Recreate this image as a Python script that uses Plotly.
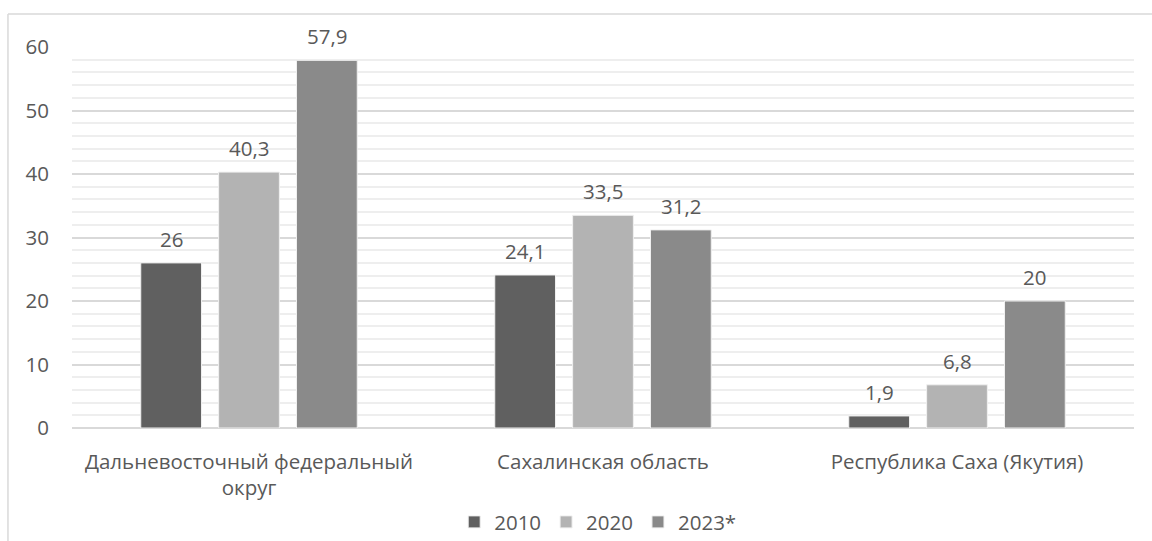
import plotly.graph_objects as go

regions = ["Дальневосточный федеральный<br>округ", "Сахалинская область", "Республика Саха (Якутия)"]
years = ["2010", "2020", "2023*"]
values = {
    "2010": [26, 24.1, 1.9],
    "2020": [40.3, 33.5, 6.8],
    "2023*": [57.9, 31.2, 20],
}
colors = {"2010": "#606060", "2020": "#b3b3b3", "2023*": "#8a8a8a"}

FONT = "Open Sans"
FS = 20.5
TXT = "#595959"
BARGAP = 0.34
BARGROUPGAP = 0.22

fig = go.Figure()
for yr in years:
    fig.add_trace(go.Bar(
        name=yr,
        x=regions,
        y=values[yr],
        marker=dict(color=colors[yr], line=dict(color="#f0f0f0", width=1)),
    ))

# value labels above each bar, centred on the bar's slot within its group
n = len(years)
slot = (1 - BARGAP) / n
annotations = []
for j, yr in enumerate(years):
    for i, v in enumerate(values[yr]):
        annotations.append(dict(
            x=i + (j - (n - 1) / 2) * slot, y=v, xref="x", yref="y",
            text=f"{v:g}".replace(".", ","), showarrow=False,
            yanchor="middle", yshift=24,
            font=dict(family=FONT, size=FS, color=TXT),
        ))

fig.update_layout(
    width=1152, height=541,
    margin=dict(l=72, r=18, t=47, b=113, autoexpand=False),
    paper_bgcolor="white", plot_bgcolor="white",
    barmode="group", bargap=BARGAP, bargroupgap=BARGROUPGAP,
    font=dict(family=FONT, size=FS, color=TXT),
    showlegend=True,
    legend=dict(orientation="h", x=0.495, xanchor="center", xref="paper",
                y=0.035, yanchor="middle", yref="container",
                font=dict(family=FONT, size=FS, color=TXT),
                itemwidth=30, traceorder="normal"),
    xaxis=dict(showline=False, showgrid=False, ticks="", ticklabelstandoff=19,
               automargin=False,
               tickfont=dict(family=FONT, size=FS, color=TXT)),
    yaxis=dict(range=[0, 60], dtick=10, showline=False, zeroline=True,
               automargin=False,
               zerolinecolor="#d9d9d9", zerolinewidth=1.5,
               gridcolor="#d9d9d9", gridwidth=1.5, ticks="", ticklabelstandoff=22,
               tickfont=dict(family=FONT, size=FS, color=TXT),
               minor=dict(dtick=2, showgrid=True, gridcolor="#eeeeee", gridwidth=1.5)),
    annotations=annotations,
    shapes=[
        dict(type="line", xref="paper", yref="paper", x0=-0.0603, x1=1.2, y0=1.0866, y1=1.0866,
             line=dict(color="#d9d9d9", width=1.5)),
        dict(type="line", xref="paper", yref="paper", x0=-0.0603, x1=-0.0603, y0=1.0866, y1=-0.5,
             line=dict(color="#d9d9d9", width=1.5)),
    ],
)

fig.write_html("out.html")
